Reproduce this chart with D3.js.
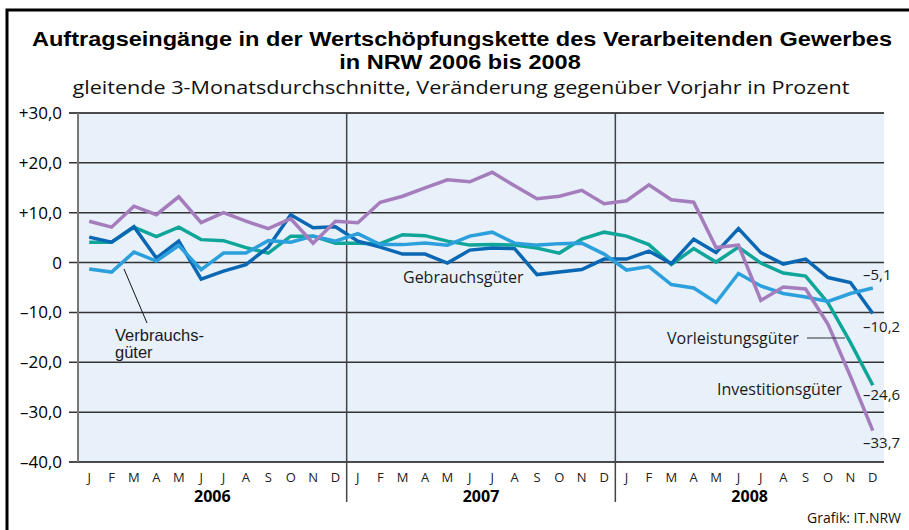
<!DOCTYPE html>
<html><head><meta charset="utf-8">
<script src="https://cdn.jsdelivr.net/npm/d3@7/dist/d3.min.js"></script>
<style>
html,body{margin:0;padding:0;background:#fff;}
svg{display:block;font-family:"Open Sans","Noto Sans",sans-serif;}
</style></head>
<body>
<svg id="c" width="909" height="530"></svg>
<script>
const monthLabels = ["J","F","M","A","M","J","J","A","S","O","N","D"];
const years = ["2006","2007","2008"];
const yTicks = [30,20,10,0,-10,-20,-30,-40];
const yTickLabels = ["+30,0","+20,0","+10,0","0","–10,0","–20,0","–30,0","–40,0"];

const investitionsgueter = [
  8.3, 7.1, 11.3, 9.6, 13.2, 8.0, 10.0, 8.3, 6.8, 8.8, 3.9, 8.3,
  8.0, 12.1, 13.3, 15.0, 16.6, 16.2, 18.1, 15.4, 12.8, 13.3, 14.5, 11.8,
  12.4, 15.6, 12.6, 12.1, 3.0, 3.5, -7.6, -4.9, -5.3, -12.4, -22.8, -33.7
];
const vorleistungsgueter = [
  4.1, 4.1, 7.1, 5.2, 7.1, 4.6, 4.4, 3.0, 1.9, 5.3, 5.3, 3.9,
  3.9, 3.8, 5.6, 5.4, 4.3, 3.5, 3.6, 3.5, 2.9, 1.9, 4.7, 6.1,
  5.3, 3.6, -0.4, 2.8, 0.1, 3.1, -0.1, -2.1, -2.7, -8.1, -16.0, -24.6
];
const gebrauchsgueter = [
  5.1, 4.1, 7.2, 0.9, 4.3, -3.3, -1.7, -0.4, 3.1, 9.6, 7.0, 7.2,
  4.3, 3.1, 1.7, 1.7, -0.1, 2.5, 2.9, 2.8, -2.4, -1.9, -1.4, 0.7,
  0.7, 2.3, -0.2, 4.7, 2.0, 6.8, 2.0, -0.3, 0.7, -3.0, -4.0, -10.2
];
const verbrauchsgueter = [
  -1.3, -1.9, 2.1, 0.3, 3.4, -1.4, 1.9, 1.9, 4.4, 4.1, 5.3, 4.3,
  5.8, 3.6, 3.6, 3.9, 3.5, 5.3, 6.1, 3.9, 3.5, 3.8, 3.9, 1.7,
  -1.5, -0.8, -4.4, -5.1, -8.0, -2.2, -4.7, -6.2, -6.9, -7.8, -6.2, -5.1
];
const endLabels = ["–5,1","–10,2","–24,6","–33,7"];

const svg = d3.select("#c");
const L = 78, R = 884, T = 113, B = 462;
const idx = d3.range(36);
const x = d3.scalePoint().domain(idx).range([L, R]).padding(0.5);
const step = x.step();
const y = d3.scaleLinear().domain([-40, 30]).range([B, T]);

// frame
svg.append("path").attr("d", "M7,540 L7,10 L915,10")
  .attr("fill","none").attr("stroke","#000").attr("stroke-width",3);

// titles
const tFont = "'Liberation Sans', Arial, sans-serif";
const t1 = svg.append("text").attr("x",462).attr("y",46).attr("text-anchor","middle")
  .attr("font-family",tFont).attr("font-weight","bold").attr("font-size",20).attr("fill","#000")
  .text("Auftragseingänge in der Wertschöpfungskette des Verarbeitenden Gewerbes");
const t2 = svg.append("text").attr("x",460).attr("y",69).attr("text-anchor","middle")
  .attr("font-family",tFont).attr("font-weight","bold").attr("font-size",20).attr("fill","#000")
  .text("in NRW 2006 bis 2008");
const k = 860 / t1.node().getComputedTextLength();
const w2 = t2.node().getComputedTextLength();
t1.attr("textLength", 860).attr("lengthAdjust","spacingAndGlyphs");
t2.attr("textLength", w2*k).attr("lengthAdjust","spacingAndGlyphs");
const st = svg.append("text").attr("x",461).attr("y",94).attr("text-anchor","middle")
  .attr("font-size",19).attr("fill","#111")
  .text("gleitende 3-Monatsdurchschnitte, Veränderung gegenüber Vorjahr in Prozent");
st.attr("textLength", 777).attr("lengthAdjust","spacingAndGlyphs");

// plot background
svg.append("rect").attr("x",L).attr("y",T).attr("width",R-L).attr("height",B-T).attr("fill","#e8f0fa");

// gridlines
svg.append("g").selectAll("line").data(yTicks).join("line")
  .attr("x1",69).attr("x2",R).attr("y1",d=>y(d)).attr("y2",d=>y(d))
  .attr("stroke",d=>d===-40||d===30?"#111":"#333").attr("stroke-width",1.5);

// left edge
svg.append("line").attr("x1",L).attr("x2",L).attr("y1",T).attr("y2",B)
  .attr("stroke","#777").attr("stroke-width",2);

// year dividers
const divs = [x(11)+step/2, x(23)+step/2];
svg.append("g").selectAll("line").data(divs).join("line")
  .attr("x1",d=>d).attr("x2",d=>d).attr("y1",T).attr("y2",502)
  .attr("stroke","#444").attr("stroke-width",1.5);

// y labels
svg.append("g").selectAll("text").data(yTicks).join("text")
  .attr("x",62).attr("y",d=>y(d)).attr("dy","0.35em").attr("text-anchor","end")
  .attr("font-size",17).attr("fill","#000").text((d,i)=>yTickLabels[i]);

// month labels
svg.append("g").selectAll("text").data(idx).join("text")
  .attr("x",d=>x(d)).attr("y",477).attr("dy","0.35em").attr("text-anchor","middle")
  .attr("font-size",13).attr("fill","#222").text(d=>monthLabels[d%12]);

// year labels
svg.append("g").selectAll("text").data(years).join("text")
  .attr("x",(d,i)=>(x(i*12)+x(i*12+11))/2).attr("y",496).attr("dy","0.35em").attr("text-anchor","middle")
  .attr("font-size",16).attr("font-weight","bold").attr("fill","#000").text(d=>d);

// lines
const line = d3.line().x((d,i)=>x(i)).y(d=>y(d));
const series = [
  {v: vorleistungsgueter, c: "#0fa598"},
  {v: gebrauchsgueter, c: "#0a67b4"},
  {v: verbrauchsgueter, c: "#2ba0dc"},
  {v: investitionsgueter, c: "#a57dbd"}
];
svg.append("g").selectAll("path").data(series).join("path")
  .attr("d",d=>line(d.v)).attr("fill","none").attr("stroke",d=>d.c)
  .attr("stroke-width",3.5).attr("stroke-linejoin","miter");

// in-chart labels
const lab = svg.append("g").attr("font-size",16).attr("fill","#1a1a1a");
lab.append("text").attr("x",115).attr("y",341).attr("font-family",tFont).attr("font-size",16.5).text("Verbrauchs-");
lab.append("text").attr("x",115).attr("y",358).attr("font-family",tFont).attr("font-size",16.5).text("güter");
lab.append("text").attr("x",403).attr("y",277).attr("dy","0.35em").text("Gebrauchsgüter");
lab.append("text").attr("x",667).attr("y",338).attr("dy","0.35em").text("Vorleistungsgüter");
lab.append("text").attr("x",717).attr("y",389).attr("dy","0.35em").text("Investitionsgüter");
svg.append("line").attr("x1",124).attr("y1",269).attr("x2",147).attr("y2",323).attr("stroke","#111").attr("stroke-width",1);
svg.append("line").attr("x1",807).attr("y1",338).attr("x2",845).attr("y2",338).attr("stroke","#333").attr("stroke-width",1);

// end labels
const endY = [275, 327, 395, 443];
svg.append("g").selectAll("text").data(endLabels).join("text")
  .attr("x",863).attr("y",(d,i)=>endY[i]).attr("dy","0.35em")
  .attr("font-size",15).attr("fill","#1a1a1a").text(d=>d);

// source
svg.append("text").attr("x",901).attr("y",518).attr("dy","0.35em").attr("text-anchor","end")
  .attr("font-size",14).attr("fill","#111").text("Grafik: IT.NRW");
</script>
</body></html>
